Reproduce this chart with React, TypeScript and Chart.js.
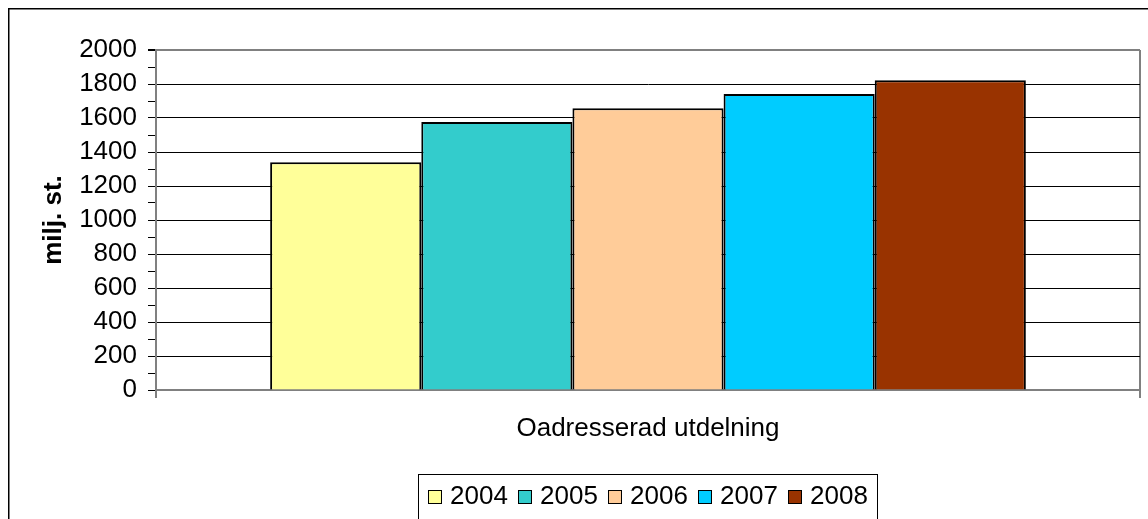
import React, { useEffect, useRef } from 'react';
import { Chart, registerables } from 'chart.js';

Chart.register(...registerables);

const categories = ['Oadresserad utdelning'];
const years = ['2004', '2005', '2006', '2007', '2008'];
const values = [1340, 1576, 1657, 1741, 1822];
const colors = ['#FFFF99', '#33CCCC', '#FFCC99', '#00CCFF', '#993300'];
const yMin = 0;
const yMax = 2000;
const yMinorStep = 100;
const yMajorStep = 200;
const yTitle = 'milj. st.';

const FONT = "'Liberation Sans', Arial, sans-serif";
const FS = 26;

const frameLegendPlugin = {
  id: 'frameLegend',
  afterDraw(chart: any) {
    const ctx = chart.ctx;
    ctx.save();
    // outer frame
    ctx.strokeStyle = '#000';
    ctx.lineWidth = 1.5;
    ctx.strokeRect(0.75, 0.75, chart.width + 10, chart.height + 10);
    // legend box
    const boxL = 410;
    const boxT = 466;
    const boxW = 459;
    const boxH = 50;
    ctx.lineWidth = 1;
    ctx.strokeStyle = '#000';
    ctx.strokeRect(boxL + 0.5, boxT + 0.5, boxW, boxH);
    ctx.font = `${FS}px ${FONT}`;
    ctx.textBaseline = 'alphabetic';
    ctx.textAlign = 'left';
    chart.data.datasets.forEach((ds: any, i: number) => {
      const x = boxL + 10 + i * 90;
      ctx.fillStyle = ds.backgroundColor;
      ctx.fillRect(x, 482, 14, 14);
      ctx.strokeStyle = '#000';
      ctx.strokeRect(x + 0.5, 482.5, 13, 13);
      ctx.fillStyle = '#000';
      ctx.fillText(ds.label, x + 22, 496);
    });
    ctx.restore();
  },
};

export default function App() {
  const ref = useRef<HTMLCanvasElement | null>(null);

  useEffect(() => {
    if (!ref.current) return;
    const chart = new Chart(ref.current, {
      type: 'bar',
      data: {
        labels: categories,
        datasets: years.map((y, i) => ({
          label: y,
          data: [values[i]],
          backgroundColor: colors[i],
          borderColor: '#000',
          borderWidth: 2,
          barPercentage: 1,
          categoryPercentage: 0.768,
        })),
      },
      options: {
        responsive: false,
        maintainAspectRatio: false,
        animation: false,
        layout: { padding: { top: 42, right: 18, left: 0, bottom: 0 } },
        plugins: {
          legend: { display: false },
          tooltip: { enabled: false },
        },
        scales: {
          x: {
            grid: {
              display: true,
              drawOnChartArea: true,
              color: '#808080',
              lineWidth: 2,
              drawTicks: true,
              tickLength: 8,
              tickColor: '#808080',
              offset: true,
            },
            border: { display: true, color: '#808080', width: 2 },
            ticks: { color: '#000', font: { family: FONT, size: FS }, padding: 15 },
            afterFit: (s: any) => {
              s.height = 148;
            },
          },
          y: {
            min: yMin,
            max: yMax,
            ticks: {
              stepSize: yMinorStep,
              autoSkip: false,
              color: '#000',
              font: { family: FONT, size: FS },
              padding: 11,
              callback: (v: any) => (Number(v) % yMajorStep === 0 ? String(v) : ''),
            },
            grid: {
              color: (c: any) => {
                const v = c.tick ? c.tick.value : 0;
                if (v === yMax || v === yMin) return '#808080';
                if (v % yMajorStep !== 0) return 'rgba(0,0,0,0)';
                return '#000';
              },
              lineWidth: (c: any) => {
                const v = c.tick ? c.tick.value : 0;
                return v === yMax ? 2 : 1;
              },
              tickColor: '#000',
              tickLength: 8,
              drawTicks: true,
            },
            border: { display: true, color: '#808080', width: 2 },
            title: {
              display: true,
              text: yTitle,
              color: '#000',
              font: { family: FONT, size: FS, weight: 'bold' },
              padding: { top: 30, bottom: 0 },
            },
            afterFit: (s: any) => {
              s.width = 148;
            },
          },
        },
      },
      plugins: [frameLegendPlugin],
    } as any);
    return () => chart.destroy();
  }, []);

  return (
    <div
      style={{
        position: 'fixed',
        left: 8,
        top: 8,
        width: 1140,
        height: 511,
        overflow: 'hidden',
        background: '#fff',
      }}
    >
      <canvas ref={ref} width={1150} height={530} style={{ display: 'block' }} />
    </div>
  );
}
